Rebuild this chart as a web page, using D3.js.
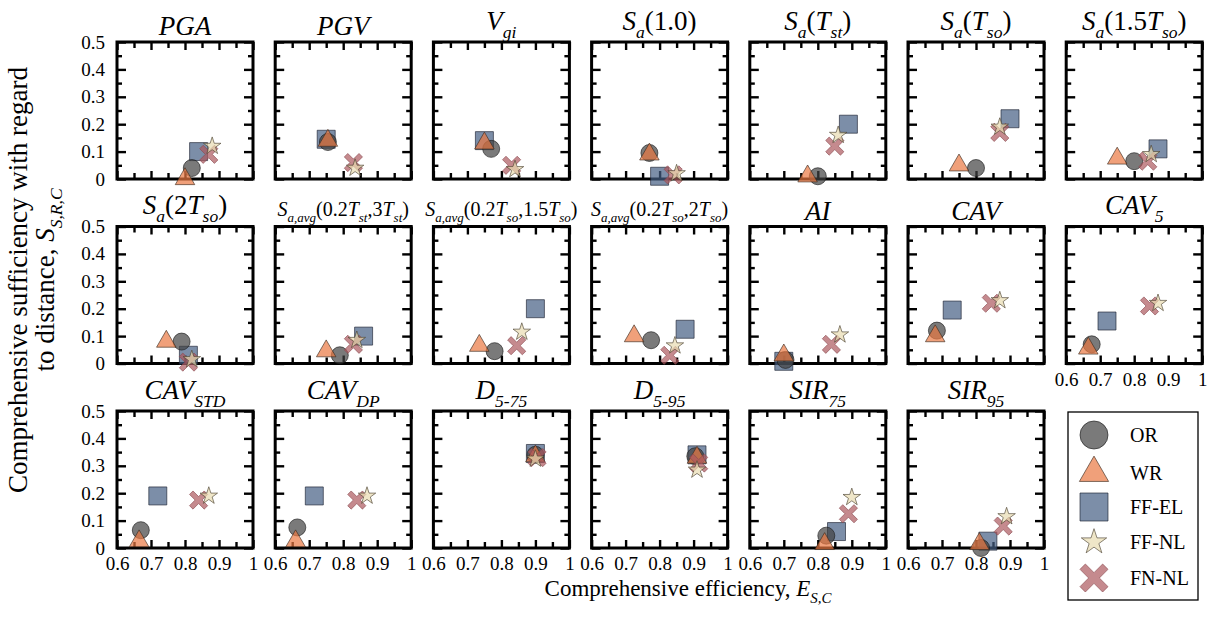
<!DOCTYPE html>
<html><head><meta charset="utf-8">
<script src="https://cdn.jsdelivr.net/npm/d3@7"></script>
<style>
body{margin:0;background:#fff}
</style>
</head><body><svg id="c" width="1211" height="618"></svg>
<script>
// ---------------- data ----------------
const seriesNames = ["OR","WR","FF-EL","FF-NL","FN-NL"];
const xTicks = [0.6,0.7,0.8,0.9,1];
const xMinor = [0.65,0.75,0.85,0.95];
const yTicks = [0,0.1,0.2,0.3,0.4,0.5];
const yMinor = [0.05,0.15,0.25,0.35,0.45];

// panel titles (segments: i = italic, r = roman, si = italic subscript)
const titles = [
  [["PGA","i"]],
  [["PGV","i"]],
  [["V","i"],["gi","si"]],
  [["S","i"],["a","si"],["(1.0)","r"]],
  [["S","i"],["a","si"],["(","r"],["T","i"],["st","si"],[")","r"]],
  [["S","i"],["a","si"],["(","r"],["T","i"],["so","si"],[")","r"]],
  [["S","i"],["a","si"],["(1.5","r"],["T","i"],["so","si"],[")","r"]],
  [["S","i"],["a","si"],["(2","r"],["T","i"],["so","si"],[")","r"]],
  [["S","i"],["a,avg","si"],["(0.2","r"],["T","i"],["st","si"],[",3","r"],["T","i"],["st","si"],[")","r"]],
  [["S","i"],["a,avg","si"],["(0.2","r"],["T","i"],["so","si"],[",1.5","r"],["T","i"],["so","si"],[")","r"]],
  [["S","i"],["a,avg","si"],["(0.2","r"],["T","i"],["so","si"],[",2","r"],["T","i"],["so","si"],[")","r"]],
  [["AI","i"]],
  [["CAV","i"]],
  [["CAV","i"],["5","si"]],
  [["CAV","i"],["STD","si"]],
  [["CAV","i"],["DP","si"]],
  [["D","i"],["5-75","si"]],
  [["D","i"],["5-95","si"]],
  [["SIR","i"],["75","si"]],
  [["SIR","i"],["95","si"]]
];

// comprehensive efficiency (x) and sufficiency (y) per intensity measure
const effOR  = [0.82,0.755,0.77,0.77,0.80,0.80,0.80, 0.79,0.79,0.78,0.775,0.705,0.685,0.675, 0.67,0.665,0.90,0.905,0.825,0.815];
const sufOR  = [0.04,0.135,0.11,0.095,0.01,0.04,0.065, 0.08,0.03,0.045,0.085,0.013,0.12,0.07, 0.065,0.075,0.34,0.335,0.045,0.0];
const effWR  = [0.80,0.755,0.75,0.77,0.77,0.75,0.75, 0.745,0.75,0.735,0.725,0.70,0.68,0.665, 0.665,0.66,0.90,0.91,0.82,0.81];
const sufWR  = [0.0,0.14,0.13,0.09,0.01,0.05,0.075, 0.08,0.045,0.065,0.10,0.03,0.10,0.055, 0.025,0.025,0.335,0.33,0.015,0.015];
const effFFEL = [0.84,0.75,0.75,0.80,0.89,0.90,0.87, 0.81,0.86,0.90,0.875,0.70,0.73,0.72, 0.72,0.715,0.90,0.91,0.855,0.835];
const sufFFEL = [0.10,0.145,0.14,0.01,0.20,0.22,0.11, 0.03,0.10,0.20,0.125,0.008,0.195,0.155, 0.19,0.19,0.345,0.34,0.06,0.025];
const effFFNL = [0.88,0.835,0.84,0.85,0.86,0.87,0.85, 0.82,0.84,0.86,0.845,0.865,0.87,0.87, 0.87,0.87,0.90,0.91,0.90,0.89];
const sufFFNL = [0.12,0.04,0.035,0.02,0.16,0.19,0.09, 0.015,0.085,0.115,0.065,0.105,0.23,0.22, 0.19,0.19,0.325,0.285,0.185,0.115];
const effFNNL = [0.87,0.83,0.83,0.84,0.85,0.87,0.84, 0.81,0.83,0.845,0.83,0.84,0.845,0.845, 0.84,0.84,0.905,0.915,0.89,0.88];
const sufFNNL = [0.09,0.06,0.05,0.015,0.12,0.17,0.065, 0.005,0.07,0.065,0.03,0.07,0.22,0.21, 0.175,0.175,0.33,0.31,0.125,0.08];

const effAll = [effOR, effWR, effFFEL, effFFNL, effFNNL];
const sufAll = [sufOR, sufWR, sufFFEL, sufFFNL, sufFNNL];

// ---------------- styles / layout ----------------
const FONT = '"Liberation Serif","Times New Roman",serif';
const fills = ["#414141","#ea7741","#445e83","#e8dbb0","#ac585e"];
const strokes = ["#1a1a1a","#3a2a20","#1a2030","#4a4030","#8a4a50"];
const drawOrder = [2,0,1,4,3];

const symXThick = {
  draw(ctx, size) {
    const r = Math.sqrt(size) / 2, w = r * 0.27, a = r * Math.SQRT2 - w;
    const pts = [[w,-a],[w,-w],[a,-w],[a,w],[w,w],[w,a],[-w,a],[-w,w],[-a,w],[-a,-w],[-w,-w],[-w,-a]];
    pts.forEach(([x,y],k) => {
      const X = (x - y) / Math.SQRT2, Y = (x + y) / Math.SQRT2;
      k ? ctx.lineTo(X, Y) : ctx.moveTo(X, Y);
    });
    ctx.closePath();
  }
};
const symTypes = [d3.symbolCircle, d3.symbolTriangle, d3.symbolSquare, d3.symbolStar, symXThick];
const sizeData = [227, 165, 324, 95, 330];
const sizeLeg  = [616, 370, 784, 200, 784];

const W = 1211, H = 618;
const colLeft = 117, colPitch = 158.2, panelW = 136, panelH = 137;
const rowTop = [42, 226.5, 411];

const svg = d3.select("#c");
svg.append("rect").attr("width",W).attr("height",H).attr("fill","#fff");

function addRich(g, segs, x, y, fs, anchor) {
  const t = g.append("text").attr("x", x).attr("y", y)
    .attr("text-anchor", anchor).style("font-size", fs + "px")
    .style("font-family", FONT).attr("fill", "#000");
  let shifted = false; const sub = fs * 0.3;
  segs.forEach(([s, k]) => {
    const isSub = k[0] === "s";
    const ts = t.append("tspan").text(s).style("font-family", FONT)
      .style("font-style", k.endsWith("i") ? "italic" : "normal");
    if (isSub) {
      ts.style("font-size", (fs * 0.65) + "px");
      if (!shifted) { ts.attr("dy", sub); shifted = true; }
    } else if (shifted) { ts.attr("dy", -sub); shifted = false; }
  });
  return t;
}

const fmt = d => String(+d.toFixed(2));

titles.forEach((segs, i) => {
  const row = Math.floor(i / 7), col = i % 7;
  const left = colLeft + col * colPitch, top = rowTop[row];
  const x = d3.scaleLinear().domain([0.6, 1]).range([0, panelW]);
  const y = d3.scaleLinear().domain([0, 0.5]).range([panelH, 0]);
  const g = svg.append("g").attr("transform", `translate(${left},${top})`);

  const tickStyle = sel => {
    sel.attr("font-family", null).attr("font-size", null);
    sel.select(".domain").remove();
    sel.selectAll(".tick line").attr("stroke", "#000").attr("stroke-width", 2.4);
    sel.selectAll("text").style("font-size", "19px").style("font-family", FONT).attr("fill", "#000");
  };
  const noLab = () => "";
  // inward ticks on all sides
  g.append("g").attr("transform", `translate(0,${panelH})`)
    .call(d3.axisBottom(x).tickValues(xTicks).tickSize(-8).tickPadding(9)
      .tickFormat((i >= 14 || i === 13) ? fmt : noLab)).call(tickStyle);
  g.append("g").attr("transform", `translate(0,${panelH})`)
    .call(d3.axisBottom(x).tickValues(xMinor).tickSize(-6).tickFormat(noLab)).call(tickStyle);
  g.append("g").call(d3.axisTop(x).tickValues(xTicks).tickSize(-8).tickFormat(noLab)).call(tickStyle);
  g.append("g").call(d3.axisTop(x).tickValues(xMinor).tickSize(-6).tickFormat(noLab)).call(tickStyle);
  g.append("g")
    .call(d3.axisLeft(y).tickValues(yTicks).tickSize(-9).tickPadding(12)
      .tickFormat(col === 0 ? fmt : noLab)).call(tickStyle);
  g.append("g").call(d3.axisLeft(y).tickValues(yMinor).tickSize(-5).tickFormat(noLab)).call(tickStyle);
  g.append("g").attr("transform", `translate(${panelW},0)`)
    .call(d3.axisRight(y).tickValues(yTicks).tickSize(-9).tickFormat(noLab)).call(tickStyle);
  g.append("g").attr("transform", `translate(${panelW},0)`)
    .call(d3.axisRight(y).tickValues(yMinor).tickSize(-5).tickFormat(noLab)).call(tickStyle);

  g.append("rect").attr("width", panelW).attr("height", panelH)
    .attr("fill", "none").attr("stroke", "#000").attr("stroke-width", 3);

  // markers
  drawOrder.forEach(s => {
    g.append("path")
      .attr("d", d3.symbol().type(symTypes[s]).size(sizeData[s])())
      .attr("transform", `translate(${x(effAll[s][i])},${y(sufAll[s][i])})`)
      .attr("fill", fills[s]).attr("fill-opacity", 0.7)
      .attr("stroke", strokes[s]).attr("stroke-width", 0.8).attr("stroke-opacity", 0.8);
  });

  // title
  const small = (i >= 8 && i <= 10);
  const fs = small ? 20 : 27;
  const hasSub = segs.some(s => s[1][0] === "s");
  addRich(svg, segs, left + panelW / 2, top - (hasSub ? 7 + 0.19 * fs : 7), fs, "middle");
});

// axis titles
addRich(svg, [["Comprehensive efficiency, ","r"],["E","i"],["S,C","si"]], 688, 596, 23, "middle");
addRich(svg.append("g").attr("transform", "translate(27,280) rotate(-90)"),
  [["Comprehensive sufficiency with regard","r"]], 0, 0, 27, "middle");
addRich(svg.append("g").attr("transform", "translate(54,280) rotate(-90)"),
  [["to distance, ","r"],["S","i"],["S,R,C","si"]], 0, 0, 27, "middle");

// legend
const leg = svg.append("g");
leg.append("rect").attr("x", 1068).attr("y", 412).attr("width", 130).attr("height", 188)
  .attr("fill", "#fff").attr("stroke", "#000").attr("stroke-width", 1.3);
const legY = [435, 473, 507, 542, 578];
seriesNames.forEach((nm, s) => {
  leg.append("path")
    .attr("d", d3.symbol().type(symTypes[s]).size(sizeLeg[s])())
    .attr("transform", `translate(1094,${legY[s]})`)
    .attr("fill", fills[s]).attr("fill-opacity", 0.7)
    .attr("stroke", strokes[s]).attr("stroke-width", 0.8).attr("stroke-opacity", 0.8);
  leg.append("text").attr("x", 1130).attr("y", legY[s]).attr("dy", "0.35em")
    .style("font-size", "20px").style("font-family", FONT).attr("fill", "#000").text(nm);
});
</script>
</body></html>
